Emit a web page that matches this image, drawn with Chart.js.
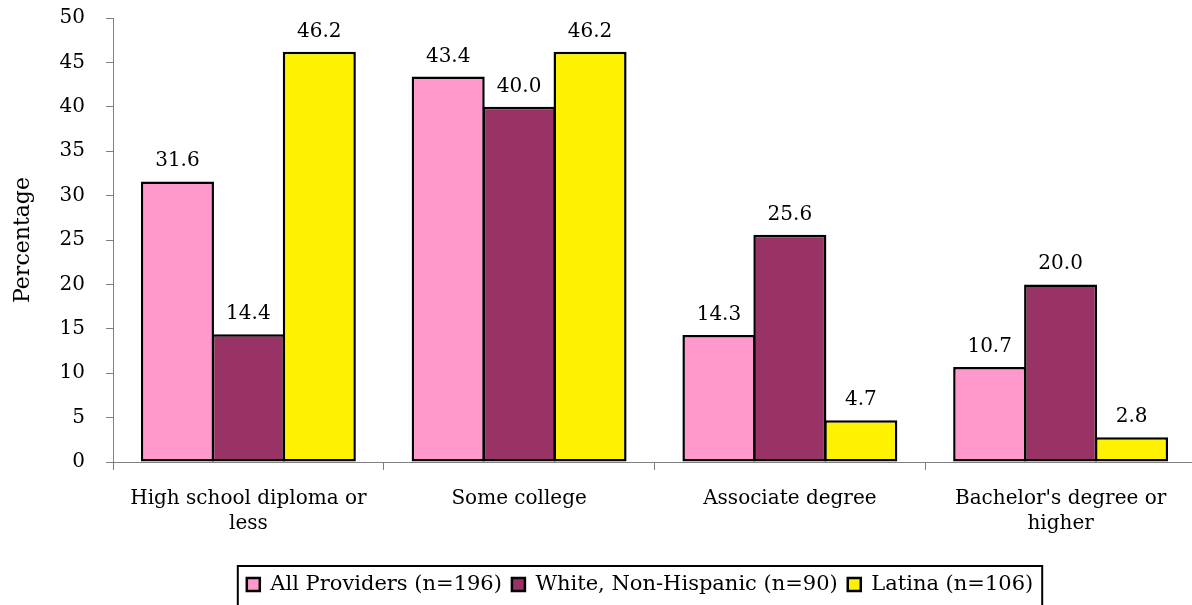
<!DOCTYPE html>
<html>
<head>
<meta charset="utf-8">
<script src="https://cdn.jsdelivr.net/npm/chart.js@4/dist/chart.umd.min.js"></script>
<style>
  html, body { margin: 0; padding: 0; overflow: hidden; background: #ffffff; }
  #wrap { width: 1200px; height: 605px; }
</style>
</head>
<body>
<div id="wrap"><canvas id="c" width="1200" height="605"></canvas></div>
<script>
// Education level of providers, by group (percent)
const categories = [
  ["High school diploma or", "less"],
  "Some college",
  "Associate degree",
  ["Bachelor's degree or", "higher"]
];
const seriesNames = ["All Providers (n=196)", "White, Non-Hispanic (n=90)", "Latina (n=106)"];
const allProviders = [31.6, 43.4, 14.3, 10.7];
const whiteNonHispanic = [14.4, 40.0, 25.6, 20.0];
const latina = [46.2, 46.2, 4.7, 2.8];
const yTicks = [0, 5, 10, 15, 20, 25, 30, 35, 40, 45, 50];

const FONT = "'DejaVu Serif', Georgia, serif";
const colors = ["#FF99CC", "#993366", "#FFF200"];
const LEGEND_CENTER = 640;

// value printed above each bar
const valueLabels = {
  id: "valueLabels",
  afterDatasetsDraw(chart) {
    const ctx = chart.ctx;
    ctx.save();
    ctx.font = "20px " + FONT;
    ctx.fillStyle = "#000";
    ctx.textAlign = "center";
    ctx.textBaseline = "alphabetic";
    chart.data.datasets.forEach((ds, di) => {
      const meta = chart.getDatasetMeta(di);
      meta.data.forEach((bar, i) => {
        ctx.fillText(ds.data[i].toFixed(1), bar.x, bar.y - 15);
      });
    });
    ctx.restore();
  }
};

// shifts the legend under the plot and draws a frame around it
const legendFrame = {
  id: "legendFrame",
  afterLayout(chart) {
    const lg = chart.legend;
    if (!lg) return;
    const shift = LEGEND_CENTER - (lg.left + lg.right) / 2;
    lg.left += shift;
    lg.right += shift;
  },
  afterDraw(chart) {
    const lg = chart.legend;
    if (!lg || !lg.legendHitBoxes || !lg.legendHitBoxes.length) return;
    const boxes = lg.legendHitBoxes;
    const left = Math.min(...boxes.map(b => b.left)) - 9;
    const right = Math.max(...boxes.map(b => b.left + b.width)) + 9;
    const top = lg.top + 2;
    const bottom = chart.height + 2;
    const ctx = chart.ctx;
    ctx.save();
    ctx.strokeStyle = "#000";
    ctx.lineWidth = 2;
    ctx.strokeRect(left, top, right - left, bottom - top);
    ctx.restore();
  }
};

function noEdgePadding(scale) {
  scale.paddingTop = 0;
  scale.paddingBottom = 0;
  scale.paddingLeft = 0;
  scale.paddingRight = 0;
}

new Chart(document.getElementById("c"), {
  type: "bar",
  data: {
    labels: categories,
    datasets: [
      { label: seriesNames[0], data: allProviders, backgroundColor: colors[0] },
      { label: seriesNames[1], data: whiteNonHispanic, backgroundColor: colors[1] },
      { label: seriesNames[2], data: latina, backgroundColor: colors[2] }
    ].map(d => Object.assign(d, {
      borderColor: "#000",
      borderWidth: 2.5,
      borderSkipped: false,
      barPercentage: 1.03,
      categoryPercentage: 0.786
    }))
  },
  options: {
    responsive: false,
    animation: false,
    devicePixelRatio: 1,
    layout: { padding: { top: 18, right: 4, left: 0, bottom: 0 } },
    plugins: {
      tooltip: { enabled: false },
      legend: {
        position: "bottom",
        labels: {
          color: "#000",
          font: { family: FONT, size: 21 },
          boxWidth: 13,
          boxHeight: 13,
          padding: 10
        }
      }
    },
    scales: {
      x: {
        grid: { display: true, offset: true, drawOnChartArea: false, tickLength: 8, color: "#808080" },
        border: { color: "#808080", width: 1 },
        ticks: { color: "#000", font: { family: FONT, size: 20, lineHeight: 1.25 }, padding: 16, maxRotation: 0 },
        afterFit(scale) { scale.height = 102; noEdgePadding(scale); }
      },
      y: {
        min: 0,
        max: 50,
        afterBuildTicks(scale) { scale.ticks = yTicks.map(v => ({ value: v })); },
        grid: { drawOnChartArea: false, tickLength: 7, color: "#808080" },
        border: { color: "#808080", width: 1 },
        ticks: { color: "#000", font: { family: FONT, size: 20 }, padding: 21 },
        title: { display: true, text: "Percentage", color: "#000", font: { family: FONT, size: 22 }, padding: { top: 10, bottom: 0 } },
        afterFit(scale) { scale.width = 113; noEdgePadding(scale); }
      }
    }
  },
  plugins: [valueLabels, legendFrame]
});
</script>
</body>
</html>
